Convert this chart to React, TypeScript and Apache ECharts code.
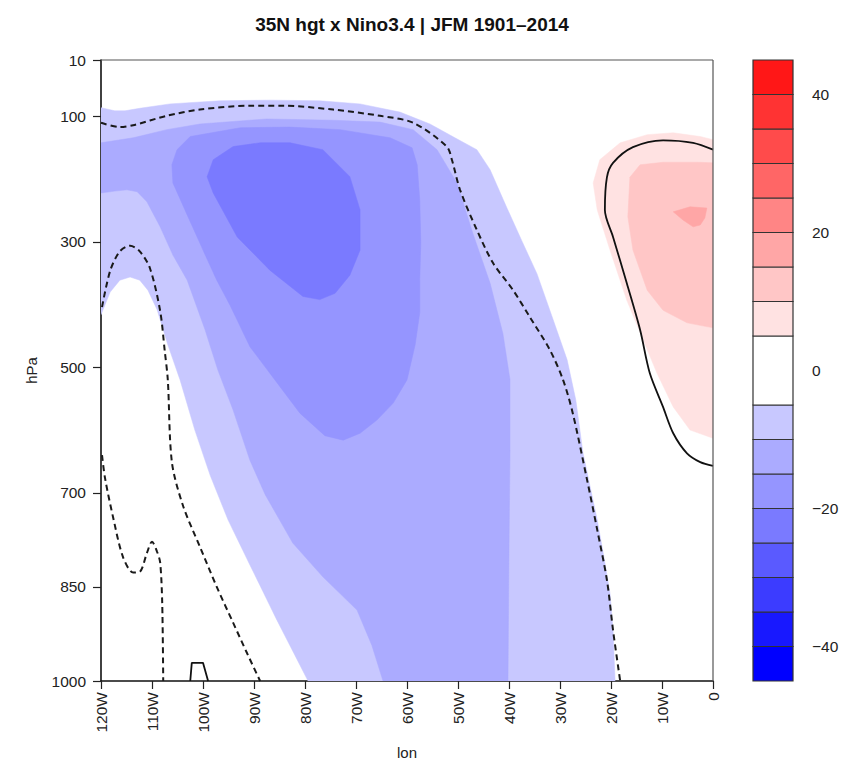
import React, { useEffect, useRef } from "react";
import * as echarts from "echarts";

const titleText = "35N hgt x Nino3.4 | JFM 1901–2014";
const xAxisName = "lon";
const yAxisName = "hPa";
const pressureTicks = [10, 100, 300, 500, 700, 850, 1000];
const lonMin = -120;
const lonMax = 0;
const lonStep = 10;

// colour bar: box boundaries (the white box spans -5..5) and fills
const colorbarBounds = [-45, -40, -35, -30, -25, -20, -15, -10, -5, 5, 10, 15, 20, 25, 30, 35, 40, 45];
const colorbarColors = [
  "#0000ff", "#1818ff", "#3c3cff", "#5a5aff", "#7a7aff", "#9595ff", "#ababff", "#c8c8ff",
  "#ffffff",
  "#ffe2e2", "#ffc6c6", "#ffa6a6", "#ff8585", "#ff6666", "#ff4b4b", "#ff3333", "#ff1717",
];
const colorbarTicks = [-40, -20, 0, 20, 40];

// filled regions: [lon (negative = W), pressure hPa]
const regionNeg5 = [
  [-120, 86], [-117.3, 91], [-115.3, 91], [-112.4, 87], [-106.5, 80], [-96.7, 75], [-86.9, 74],
  [-77.1, 75], [-69.2, 80], [-61.4, 93], [-55.5, 112], [-50.6, 134], [-46.3, 153], [-43.7, 185],
  [-40.4, 246], [-37.5, 298], [-34.5, 351], [-31.6, 418], [-28.6, 488], [-26.9, 552], [-25.5, 636],
  [-24.1, 690], [-22.7, 743], [-21.4, 802], [-20.2, 860], [-19.6, 919], [-19.2, 1000],
  [-79.4, 1000], [-85.5, 903], [-90.8, 815], [-95.1, 743], [-98.6, 672], [-101.6, 600],
  [-104.5, 520], [-106.9, 464], [-109.0, 408], [-110.8, 377], [-112.4, 361], [-114.3, 356],
  [-116.3, 361], [-118.2, 380], [-120, 416],
];
const regionNeg10 = [
  [-120, 142], [-113.7, 134], [-107.1, 121], [-100.6, 112], [-87.5, 104], [-74.5, 106],
  [-65.3, 109], [-58.8, 121], [-54.1, 153], [-50.2, 206], [-47.1, 286], [-43.7, 366],
  [-41.2, 446], [-39.8, 520], [-39.8, 632], [-40.0, 791], [-40.2, 1000],
  [-64.7, 1000], [-66.9, 943], [-69.8, 887], [-76.5, 834], [-82.4, 780], [-87.8, 703],
  [-90.8, 648], [-94.1, 568], [-97.1, 504], [-99.6, 440], [-103.1, 361], [-105.9, 321],
  [-108.4, 276], [-111.0, 236], [-112.9, 220], [-114.9, 217], [-117.3, 219], [-120, 222],
];
const regionNeg15 = [
  [-105.1, 153], [-102.5, 132], [-92.7, 118], [-82.9, 117], [-73.1, 121], [-63.3, 134],
  [-59.0, 150], [-58.0, 177], [-57.5, 233], [-57.3, 300], [-57.5, 361], [-57.5, 413],
  [-58.4, 464], [-60.0, 520], [-62.7, 557], [-65.9, 584], [-69.2, 605], [-72.5, 616],
  [-76.1, 609], [-81.0, 573], [-85.9, 520], [-90.8, 467], [-94.7, 401], [-97.3, 361],
  [-100.0, 313], [-103.1, 257], [-105.9, 206], [-106.1, 177],
];
const regionNeg20 = [
  [-98.0, 169], [-94.1, 148], [-88.8, 142], [-82.9, 142], [-76.5, 153], [-71.2, 196],
  [-69.2, 249], [-69.2, 313], [-71.2, 353], [-74.1, 382], [-77.1, 392], [-80.4, 387],
  [-86.9, 345], [-93.3, 292], [-98.0, 222], [-99.2, 196],
];
const regionPos5 = [
  [-23.5, 206], [-22.2, 169], [-18.2, 142], [-12.9, 129], [-7.8, 126], [-2.5, 132], [0, 137],
  [0, 613], [-4.5, 600], [-7.8, 563], [-11.0, 509], [-13.7, 456], [-16.9, 393], [-20.2, 313],
  [-22.7, 249],
];
const regionPos10 = [
  [-16.3, 197], [-14.3, 177], [-9.8, 173], [-3.1, 173], [0, 174], [0, 437], [-5.1, 429],
  [-9.8, 409], [-12.9, 377], [-15.7, 313], [-16.7, 260],
];
const regionPos15 = [
  [-7.8, 252], [-4.5, 244], [-1.2, 246], [-1.6, 262], [-2.5, 273], [-3.9, 276], [-5.9, 265],
];

const shadedRegions = [
  { threshold: -5, points: regionNeg5 },
  { threshold: -10, points: regionNeg10 },
  { threshold: -15, points: regionNeg15 },
  { threshold: -20, points: regionNeg20 },
  { threshold: 5, points: regionPos5 },
  { threshold: 10, points: regionPos10 },
  { threshold: 15, points: regionPos15 },
];

// contour lines
const dashedUpper = [
  [-120, 110], [-116.3, 117], [-113.7, 114], [-107.1, 99], [-100.6, 89], [-90.8, 83],
  [-84.3, 83], [-74.5, 89], [-65.3, 99], [-58.8, 110], [-52.2, 148], [-51.2, 169],
  [-49.6, 217], [-46.3, 281], [-43.1, 334], [-39.2, 377], [-35.9, 420], [-32.0, 472],
  [-29.4, 520], [-27.5, 573], [-24.7, 679], [-22.7, 759], [-20.8, 839], [-19.6, 919], [-18.2, 1000],
];
const dashedLeft = [
  [-119.8, 404], [-118.2, 346], [-116.3, 315], [-114.3, 306], [-112.4, 315], [-110.4, 342],
  [-108.4, 410], [-107.5, 474], [-106.9, 520], [-106.1, 651], [-103.9, 721], [-100.6, 786],
  [-97.3, 850], [-94.1, 907], [-91.4, 955], [-88.8, 1000],
];
const dashedLowerLeft = [
  [-119.8, 640], [-119.2, 677], [-117.6, 740], [-115.7, 802], [-113.7, 827], [-112.4, 826],
  [-111.0, 796], [-110.0, 778], [-109.0, 794], [-108.4, 811], [-108.0, 875], [-107.8, 1000],
];
const solidEast = [
  [0, 153], [-3.9, 142], [-9.8, 138], [-15.7, 149], [-19.6, 174], [-20.8, 197], [-21.2, 249],
  [-19.6, 292], [-16.9, 366], [-14.3, 440], [-12.4, 509], [-9.8, 563], [-7.8, 605],
  [-5.1, 637], [-2.5, 651], [0, 657],
];
const solidBump = [[-102.5, 1000], [-102.2, 971], [-100.0, 971], [-99.0, 1000]];

const dashedContours = [dashedUpper, dashedLeft, dashedLowerLeft];
const solidContours = [solidEast, solidBump];

function colorForThreshold(t: number): string {
  const mid = t < 0 ? t - 2.5 : t + 2.5;
  for (let i = 0; i < colorbarColors.length; i++) {
    if (mid >= colorbarBounds[i] && mid < colorbarBounds[i + 1]) return colorbarColors[i];
  }
  return "#ffffff";
}

const FONT = "'Liberation Sans', Arial, Helvetica, sans-serif";
const MAIN = { left: 101, top: 60, width: 612, height: 621 };
const BAR = { left: 753, top: 60, width: 40, height: 621 };

export default function App() {
  const ref = useRef<HTMLDivElement>(null);

  useEffect(() => {
    if (!ref.current) return;
    const chart = echarts.init(ref.current, undefined, { renderer: "svg" });

    const lineSeries: any[] = [];
    dashedContours.forEach((d, i) => {
      lineSeries.push({
        type: "line",
        name: "dashed" + i,
        xAxisIndex: 0,
        yAxisIndex: 0,
        data: d,
        showSymbol: false,
        symbol: "none",
        smooth: 0.3,
        z: 5,
        lineStyle: { color: "#1a1a1a", width: 2, type: [6, 4] },
      });
    });
    solidContours.forEach((d, i) => {
      lineSeries.push({
        type: "line",
        name: "solid" + i,
        xAxisIndex: 0,
        yAxisIndex: 0,
        data: d,
        showSymbol: false,
        symbol: "none",
        smooth: i === 0 ? 0.3 : 0,
        z: 5,
        lineStyle: { color: "#111", width: 1.8, type: "solid" },
      });
    });

    const option: any = {
      animation: false,
      backgroundColor: "#ffffff",
      textStyle: { fontFamily: FONT },
      title: {
        text: titleText,
        left: MAIN.left + MAIN.width / 2,
        textAlign: "center",
        top: 10,
        textStyle: { fontFamily: FONT, fontSize: 19, fontWeight: "bold", color: "#111" },
      },
      grid: [
        {
          left: MAIN.left,
          top: MAIN.top,
          width: MAIN.width,
          height: MAIN.height,
          containLabel: false,
          outerBoundsMode: "none",
        },
        {
          left: BAR.left,
          top: BAR.top,
          width: BAR.width,
          height: BAR.height,
          containLabel: false,
          outerBoundsMode: "none",
        },
      ],
      xAxis: [
        {
          type: "value",
          gridIndex: 0,
          min: lonMin,
          max: lonMax,
          interval: lonStep,
          position: "bottom",
          name: xAxisName,
          nameLocation: "middle",
          nameGap: 64,
          nameTextStyle: { fontFamily: FONT, fontSize: 15, color: "#222" },
          axisLine: { show: true, onZero: false, lineStyle: { color: "#111", width: 1.6 } },
          axisTick: { show: true, inside: false, length: 8, lineStyle: { color: "#222", width: 1.2 } },
          axisLabel: {
            show: true,
            rotate: 90,
            margin: 11,
            fontFamily: FONT,
            fontSize: 15.5,
            color: "#222",
            formatter: (v: number) => (v === 0 ? "0" : `${Math.abs(v)}W`),
          },
          splitLine: { show: false },
        },
        {
          type: "value",
          gridIndex: 1,
          min: 0,
          max: 1,
          show: false,
        },
      ],
      yAxis: [
        {
          type: "value",
          gridIndex: 0,
          min: pressureTicks[0],
          max: pressureTicks[pressureTicks.length - 1],
          inverse: true,
          name: yAxisName,
          nameLocation: "middle",
          nameGap: 62,
          nameRotate: 90,
          nameTextStyle: { fontFamily: FONT, fontSize: 15, color: "#222" },
          axisLine: { show: true, onZero: false, lineStyle: { color: "#111", width: 1.6 } },
          axisTick: {
            show: true,
            inside: false,
            length: 8,
            customValues: pressureTicks,
            lineStyle: { color: "#222", width: 1.2 },
          },
          axisLabel: {
            show: true,
            margin: 15,
            fontFamily: FONT,
            fontSize: 15.5,
            color: "#222",
            customValues: pressureTicks,
            formatter: (v: number) => String(v),
          },
          splitLine: { show: false },
        },
        {
          type: "value",
          gridIndex: 1,
          min: colorbarBounds[0],
          max: colorbarBounds[colorbarBounds.length - 1],
          position: "right",
          axisLine: { show: false },
          axisTick: {
            show: true,
            inside: false,
            length: 9,
            customValues: colorbarTicks,
            lineStyle: { color: "#333", width: 1.2 },
          },
          axisLabel: {
            show: true,
            margin: 19,
            fontFamily: FONT,
            fontSize: 15.5,
            color: "#222",
            customValues: colorbarTicks,
            formatter: (v: number) => (v < 0 ? "\u2212" + Math.abs(v) : String(v)),
          },
          splitLine: { show: false },
        },
      ],
      graphic: [
        {
          type: "line",
          z: 50,
          silent: true,
          shape: { x1: MAIN.left, y1: MAIN.top, x2: MAIN.left + MAIN.width, y2: MAIN.top },
          style: { stroke: "#555", lineWidth: 1.2 },
        },
        {
          type: "line",
          z: 50,
          silent: true,
          shape: {
            x1: MAIN.left + MAIN.width,
            y1: MAIN.top,
            x2: MAIN.left + MAIN.width,
            y2: MAIN.top + MAIN.height,
          },
          style: { stroke: "#555", lineWidth: 1.2 },
        },
      ],
      series: [
        {
          type: "custom",
          name: "shading",
          xAxisIndex: 0,
          yAxisIndex: 0,
          clip: true,
          z: 1,
          silent: true,
          data: shadedRegions.map((r) => [r.points[0][0], r.points[0][1], r.threshold]),
          renderItem: (params: any, api: any) => {
            const region = shadedRegions[params.dataIndex];
            const pts = region.points.map((p) => api.coord(p));
            const fill = colorForThreshold(region.threshold);
            return {
              type: "polygon",
              shape: { points: pts },
              style: { fill, stroke: fill, lineWidth: 0.5 },
            };
          },
        },
        ...lineSeries,
        {
          type: "custom",
          name: "colorbar",
          xAxisIndex: 1,
          yAxisIndex: 1,
          silent: true,
          z: 3,
          data: colorbarColors.map((c, i) => [0.5, colorbarBounds[i], colorbarBounds[i + 1]]),
          renderItem: (params: any, api: any) => {
            const topLeft = api.coord([0, api.value(2)]);
            const bottomRight = api.coord([1, api.value(1)]);
            return {
              type: "rect",
              shape: {
                x: topLeft[0],
                y: topLeft[1],
                width: bottomRight[0] - topLeft[0],
                height: bottomRight[1] - topLeft[1],
              },
              style: { fill: colorbarColors[params.dataIndex], stroke: "#333", lineWidth: 1.2 },
            };
          },
        },
      ],
    };

    chart.setOption(option);
    return () => {
      chart.dispose();
    };
  }, []);

  return (
    <div
      ref={ref}
      style={{ position: "fixed", left: 0, top: 0, width: 857, height: 762, background: "#fff" }}
    />
  );
}
